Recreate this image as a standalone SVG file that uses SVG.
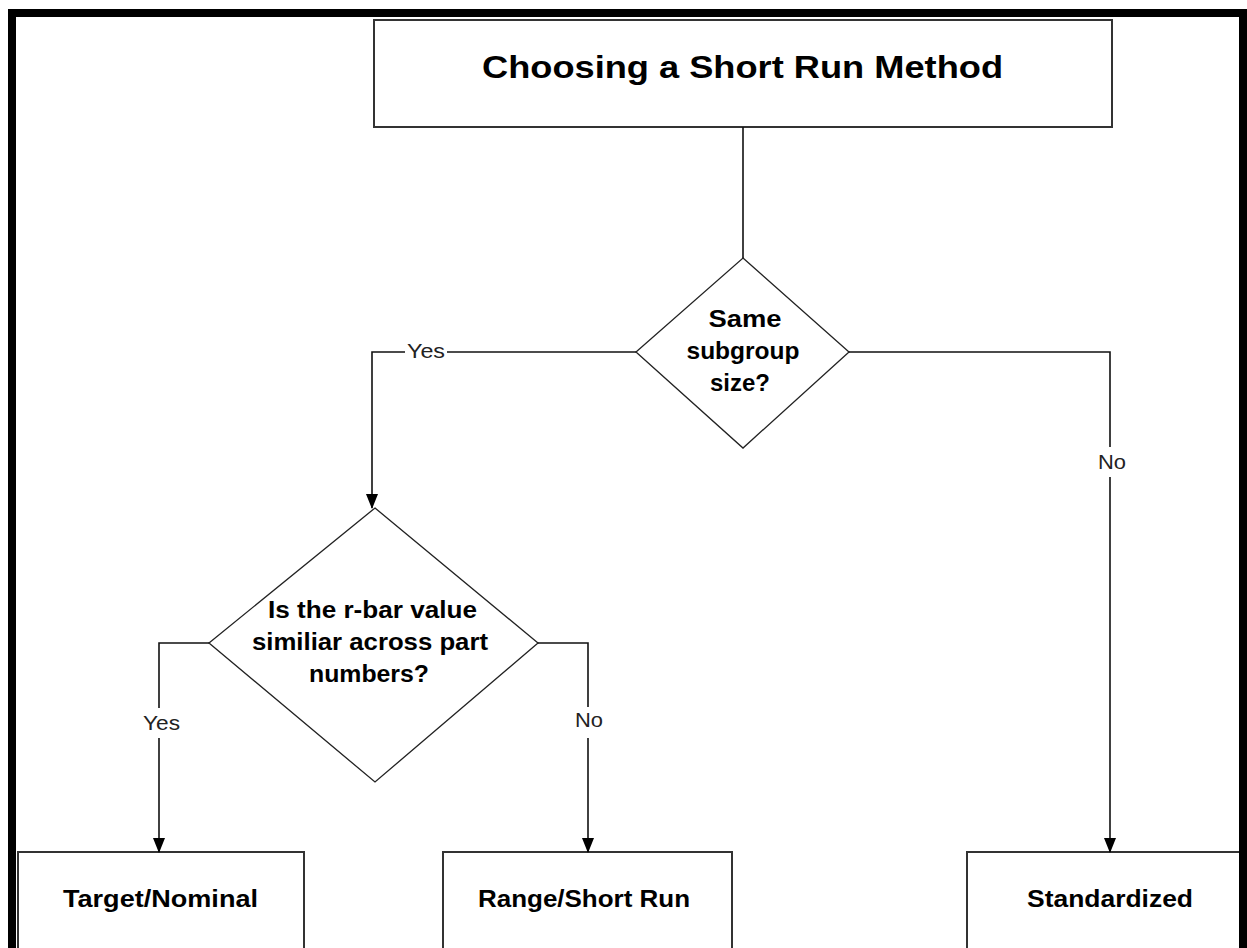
<svg xmlns="http://www.w3.org/2000/svg" width="1247" height="948" viewBox="0 0 1247 948">
  <defs>
    <style>
      .box { fill: #ffffff; stroke: #333333; stroke-width: 2; }
      .dia { fill: #ffffff; stroke: #222222; stroke-width: 1.3; }
      .ln { fill: none; stroke: #111111; stroke-width: 1.6; }
      .bt { font-family: "Liberation Sans", Arial, sans-serif; font-weight: bold; fill: #000000; text-anchor: middle; }
      .lb { font-family: "Liberation Sans", Arial, sans-serif; font-size: 20px; fill: #222222; text-anchor: middle; }
    </style>
    <marker id="arr" markerUnits="userSpaceOnUse" markerWidth="16" markerHeight="14" refX="14" refY="6" orient="auto">
      <path d="M0,0 L15,6 L0,12 Z" fill="#000000"/>
    </marker>
  </defs>
  <rect x="0" y="0" width="1247" height="948" fill="#ffffff"/>

  <g id="title">
    <rect class="box" x="374" y="20" width="738" height="107"/>
    <text class="bt" x="742.5" y="78" font-size="32" textLength="521" lengthAdjust="spacingAndGlyphs">Choosing a Short Run Method</text>
  </g>

  <g id="decision1">
    <polygon class="dia" points="743,258 849,352 743,448 636,352"/>
    <text class="bt" x="745" y="327" font-size="24" textLength="73" lengthAdjust="spacingAndGlyphs">Same</text>
    <text class="bt" x="743" y="359" font-size="24" textLength="113" lengthAdjust="spacingAndGlyphs">subgroup</text>
    <text class="bt" x="740" y="391" font-size="24" textLength="60" lengthAdjust="spacingAndGlyphs">size?</text>
  </g>

  <g id="decision2">
    <polygon class="dia" points="375,508 538,643 375,782 209,643"/>
    <text class="bt" x="372.5" y="618" font-size="23" textLength="209" lengthAdjust="spacingAndGlyphs">Is the r-bar value</text>
    <text class="bt" x="370" y="650" font-size="23" textLength="236" lengthAdjust="spacingAndGlyphs">similiar across part</text>
    <text class="bt" x="369" y="682" font-size="23" textLength="120" lengthAdjust="spacingAndGlyphs">numbers?</text>
  </g>

  <g id="target-nominal">
    <rect class="box" x="18" y="852" width="286" height="110"/>
    <text class="bt" x="160.5" y="907" font-size="24" textLength="195" lengthAdjust="spacingAndGlyphs">Target/Nominal</text>
  </g>

  <g id="range-short-run">
    <rect class="box" x="443" y="852" width="289" height="110"/>
    <text class="bt" x="584" y="907" font-size="24" textLength="212" lengthAdjust="spacingAndGlyphs">Range/Short Run</text>
  </g>

  <g id="standardized">
    <rect class="box" x="967" y="852" width="274" height="110"/>
    <text class="bt" x="1110" y="907" font-size="24" textLength="166" lengthAdjust="spacingAndGlyphs">Standardized</text>
  </g>

  <g id="connectors">
    <line class="ln" x1="743" y1="127" x2="743" y2="258"/>
    <line class="ln" x1="636" y1="352" x2="447" y2="352"/>
    <path class="ln" d="M405,352 L372,352 L372,508" marker-end="url(#arr)"/>
    <text class="lb" x="426" y="358" textLength="38" lengthAdjust="spacingAndGlyphs">Yes</text>
    <path class="ln" d="M849,352 L1110,352 L1110,447"/>
    <line class="ln" x1="1110" y1="477" x2="1110" y2="852" marker-end="url(#arr)"/>
    <text class="lb" x="1112" y="469" textLength="28" lengthAdjust="spacingAndGlyphs">No</text>
    <path class="ln" d="M209,643 L159,643 L159,708"/>
    <line class="ln" x1="159" y1="738" x2="159" y2="852" marker-end="url(#arr)"/>
    <text class="lb" x="161.5" y="730" textLength="37" lengthAdjust="spacingAndGlyphs">Yes</text>
    <path class="ln" d="M538,643 L588,643 L588,707"/>
    <line class="ln" x1="588" y1="738" x2="588" y2="852" marker-end="url(#arr)"/>
    <text class="lb" x="589" y="727" textLength="28" lengthAdjust="spacingAndGlyphs">No</text>
  </g>

  <path d="M12,960 L12,13 L1243,13 L1243,960" fill="none" stroke="#000000" stroke-width="8"/>
</svg>
